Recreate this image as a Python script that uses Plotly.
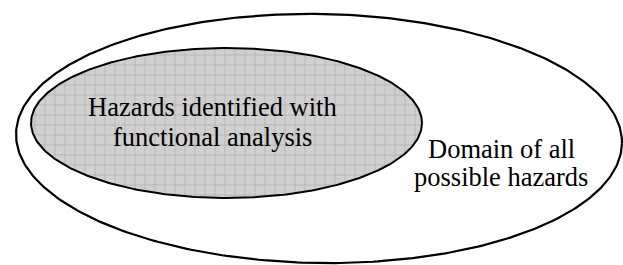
import numpy as np
import plotly.graph_objects as go

# Diagram content
region_labels = ["Domain of all possible hazards", "Hazards identified with functional analysis"]
outer_lines = ["Domain of all", "possible hazards"]
inner_lines = ["Hazards identified with", "functional analysis"]

W, H = 623, 265

def ellipse(cx, cy, rx, ry, tilt_deg=0.0, n=400):
    t = np.linspace(0, 2 * np.pi, n)
    a = np.deg2rad(tilt_deg)
    x = rx * np.cos(t)
    y = ry * np.sin(t)
    return cx + x * np.cos(a) - y * np.sin(a), cy + x * np.sin(a) + y * np.cos(a)

fig = go.Figure()

ox, oy = ellipse(319, 138.5, 303, 124.5, tilt_deg=0.9)
fig.add_trace(go.Scatter(x=ox, y=oy, mode="lines", line=dict(color="black", width=2.2),
                         fill="toself", fillcolor="white", hoverinfo="skip",
                         name=region_labels[0]))

ix, iy = ellipse(226.5, 123, 195.5, 75, tilt_deg=0.0)
fig.add_trace(go.Scatter(x=ix, y=iy, mode="lines", line=dict(color="black", width=2),
                         fill="toself", fillcolor="#cccccc",
                         fillpattern=dict(shape="+", size=10, solidity=0.14,
                                          fgcolor="#8e8e8e", bgcolor="#d0d0d0"),
                         hoverinfo="skip", name=region_labels[1]))

font = dict(family="Liberation Serif, Times New Roman, serif", size=26.5, color="black")
for i, txt in enumerate(inner_lines):
    fig.add_annotation(x=212.5, y=[106.5, 136.5][i], text=txt, showarrow=False,
                       xanchor="center", yanchor="middle", font=font)
for i, txt in enumerate(outer_lines):
    fig.add_annotation(x=501, y=[148.5, 176.5][i], text=txt, showarrow=False,
                       xanchor="center", yanchor="middle", font=font)

fig.update_layout(width=W, height=H, margin=dict(l=0, r=0, t=0, b=0),
                  paper_bgcolor="white", plot_bgcolor="white", showlegend=False,
                  xaxis=dict(range=[0, W], visible=False, fixedrange=True),
                  yaxis=dict(range=[H, 0], visible=False, fixedrange=True))
fig.write_html("out.html", config={"displayModeBar": False},
               post_script="document.body.style.margin='0';document.body.style.overflow='hidden';")
